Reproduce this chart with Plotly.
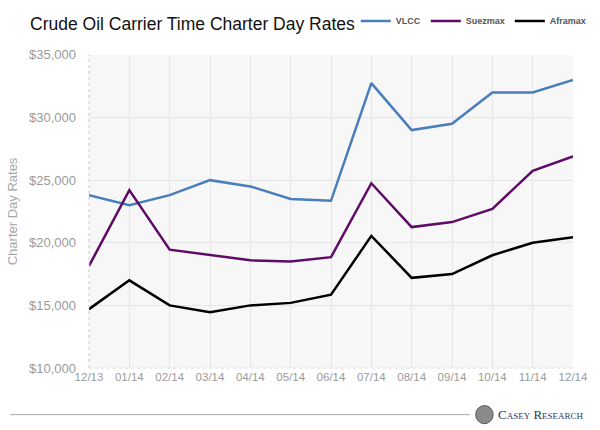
import plotly.graph_objects as go

months = ["12/13", "01/14", "02/14", "03/14", "04/14", "05/14", "06/14",
          "07/14", "08/14", "09/14", "10/14", "11/14", "12/14"]
vlcc = [23800, 23000, 23800, 25000, 24500, 23500, 23350,
        32750, 29000, 29500, 32000, 32000, 33000]
suezmax = [18150, 24200, 19450, 19000, 18600, 18500, 18850,
           24750, 21250, 21650, 22700, 25750, 26900]
aframax = [14700, 17000, 15000, 14450, 15000, 15200, 15850,
           20550, 17200, 17500, 19000, 20000, 20450]
y_ticks = [10000, 15000, 20000, 25000, 30000, 35000]

FONT = "Liberation Sans Narrow, Arial Narrow, Liberation Sans, Arial, sans-serif"

fig = go.Figure()
for name, vals, col in [("VLCC", vlcc, "#4a7ebb"),
                        ("Suezmax", suezmax, "#5e0a66"),
                        ("Aframax", aframax, "#000000")]:
    fig.add_trace(go.Scatter(x=months, y=vals, name=name, mode="lines",
                             line=dict(color=col, width=2.5)))

fig.update_layout(
    width=600, height=430,
    margin=dict(l=82, r=15, t=52, b=62),
    paper_bgcolor="white",
    plot_bgcolor="#f7f7f7",
    showlegend=True,
    legend=dict(orientation="h", x=0.593, xanchor="left", y=0.985, yref="container",
                xref="container", yanchor="top", itemwidth=30,
                bgcolor="rgba(0,0,0,0)",
                font=dict(family=FONT, size=9, color="#555555", weight="bold")),
    title=dict(text="Crude Oil Carrier Time Charter Day Rates",
               x=0.05, xanchor="left", y=0.945, yanchor="middle",
               font=dict(family=FONT, size=17.5, color="#111111")),
    xaxis=dict(type="category", range=[0, 12], showgrid=True, gridcolor="#e6e6e6",
               gridwidth=1, zeroline=False, showline=False, ticks="",
               tickfont=dict(family=FONT, size=11.5, color="#9a9a9a")),
    yaxis=dict(range=[10000, 35000], tickvals=y_ticks,
               ticktext=["${:,}".format(v) for v in y_ticks],
               showgrid=True, gridcolor="#e6e6e6", gridwidth=1, zeroline=False,
               showline=False, ticks="", ticklabelstandoff=12,
               tickfont=dict(family=FONT, size=13, color="#9a9a9a"),
               title=dict(text="Charter Day Rates", standoff=8,
                          font=dict(family="Liberation Sans, Arial, sans-serif",
                                    size=13, color="#a6a6a6"))),
)

# dashed axis lines
fig.add_shape(type="line", xref="paper", yref="paper", x0=0, x1=0, y0=0, y1=1,
              line=dict(color="#c8c8c8", width=1, dash="dot"))
fig.add_shape(type="line", xref="paper", yref="paper", x0=0, x1=1, y0=0, y1=0,
              line=dict(color="#d8d8d8", width=1, dash="dot"))
# footer rule and logo
fig.add_shape(type="line", xref="paper", yref="paper", x0=-0.163, x1=0.787,
              y0=-0.149, y1=-0.149, line=dict(color="#a8a8a8", width=1))
fig.add_shape(type="circle", xref="paper", yref="paper",
              x0=0.799, x1=0.835, y0=-0.178, y1=-0.12,
              fillcolor="#8a8a8a", line=dict(color="#555555", width=1))
fig.add_annotation(text="Casey Research", xref="paper", yref="paper",
                   x=0.84, y=-0.149, xanchor="left", yanchor="middle",
                   showarrow=False,
                   font=dict(family="Liberation Serif, Times New Roman, serif",
                             size=13, color="#2b3a5c", variant="small-caps"))

fig.write_html("out.html", config={"displayModeBar": False},
               post_script="document.body.style.margin='0px';document.body.style.overflow='hidden';")
